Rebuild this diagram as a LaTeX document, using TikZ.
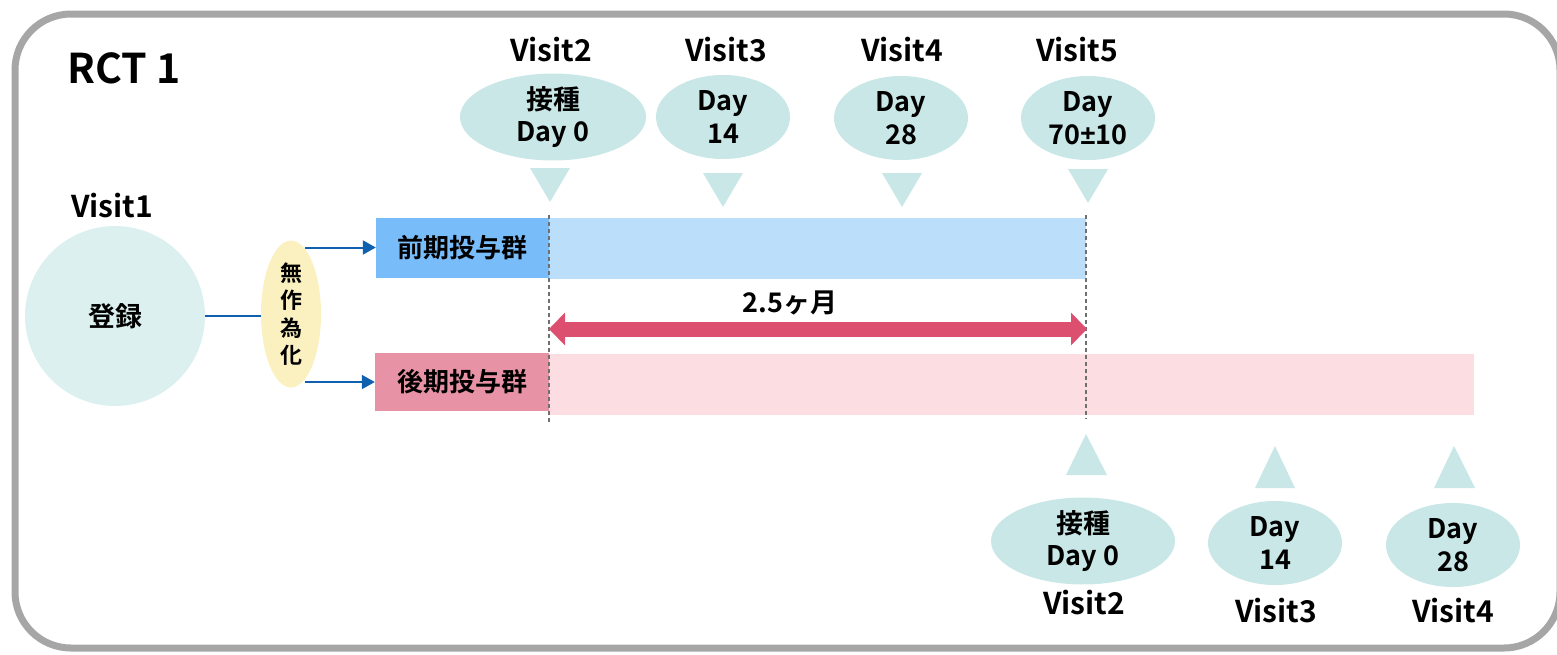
\documentclass[tikz,border=0pt]{standalone}
\usepackage{fontspec}
\setmainfont{Noto Sans CJK JP}[UprightFont=* Bold]
\newfontfamily\lat{Liberation Sans}[UprightFont=* Bold]
\usetikzlibrary{shapes.geometric,arrows.meta}
\definecolor{frame}{HTML}{A6A6A6}
\definecolor{teal1}{HTML}{C9E7E7}
\definecolor{teal2}{HTML}{DDF0F0}
\definecolor{blueline}{HTML}{1060B0}
\definecolor{prebox}{HTML}{78BCFA}
\definecolor{prebar}{HTML}{BBDEFB}
\definecolor{postbox}{HTML}{E893A5}
\definecolor{postbar}{HTML}{FCDDE1}
\definecolor{redarr}{HTML}{DC4F6E}
\definecolor{yel}{HTML}{FBF1C0}
\definecolor{dash}{HTML}{707070}
\tikzset{
  visitlbl/.style={font=\fontsize{30}{34}\selectfont, inner sep=0pt},
  dayell/.style={ellipse, fill=teal1, minimum width=134pt, minimum height=84pt, inner sep=0pt, align=center, font=\fontsize{27}{32.5}\selectfont},
  tri/.style={fill=teal1},
  boxlbl/.style={minimum height=60pt, inner sep=0pt, font=\fontsize{26}{30}\selectfont},
  barbox/.style={minimum height=61pt, inner sep=0pt},
  conn/.style={draw=blueline, line width=2pt},
  arr/.style={conn, -{Triangle[length=13pt,width=14pt]}},
  vdash/.style={draw=dash, line width=1.2pt, dash pattern=on 4pt off 3pt},
}
\begin{document}
\begin{tikzpicture}[x=1pt,y=-1pt]
\useasboundingbox (0,0) rectangle (1557,654);
% frame
\draw[frame, line width=7pt, rounded corners=56pt] (15,14) rectangle (1560,648);
\node[font=\fontsize{41}{44}\selectfont, inner sep=0pt] (rct) at (124,68) {RCT 1};

% visit 1
\node[visitlbl] (v1) at (112,206) {Visit1};
\node[circle, fill=teal2, minimum size=180pt, inner sep=0pt, font=\fontsize{27}{30}\selectfont] (reg) at (115,316) {登録};
\node[ellipse, fill=yel, minimum width=60pt, minimum height=147pt, inner sep=0pt, align=center, font=\fontsize{22}{27.5}\selectfont] (rand) at (291,314) {無\\作\\為\\化};

% bars
\node[barbox, fill=prebar, minimum width=537pt] (prebar) at (817.5,248.5) {};
\node[barbox, fill=postbar, minimum width=925pt] (postbar) at (1011.5,384) {};
\node[boxlbl, fill=prebox, minimum width=173pt] (pre) at (462.5,247.5) {前期投与群};
\node[boxlbl, fill=postbox, minimum width=174pt, minimum height=58pt] (post) at (462,382) {後期投与群};

% connectors
\draw[conn] (reg.east) -- (reg.east -| rand.west);
\draw[arr] ([xshift=14pt]rand.center |- pre.west) -- (pre.west);
\draw[arr] ([xshift=14pt]rand.center |- post.west) -- (post.west);

% dashed lines
\coordinate (d1t) at (549,215);
\coordinate (d1b) at (549,422);
\coordinate (d2t) at (1086,215);
\coordinate (d2b) at (1086,419);
\draw[vdash] (d1t) -- (d1b);
\draw[vdash] (d2t) -- (d2b);

% red double arrow
\coordinate (a1) at (549,329);
\coordinate (a2) at (1087,329);
\draw[redarr, line width=15pt, {Triangle[length=16pt,width=32pt]}-{Triangle[length=16pt,width=32pt]}] (a1) -- (a2);
\node[font=\fontsize{27}{30}\selectfont, inner sep=0pt] (dur) at (790,303) {2.5ヶ月};

% top visits
\node[visitlbl] (t2) at (551,50) {Visit2};
\node[visitlbl] (t3) at (726,50) {Visit3};
\node[visitlbl] (t4) at (902,50) {Visit4};
\node[visitlbl] (t5) at (1077,50) {Visit5};
\node[dayell, minimum width=186pt] (te2) at (553,117) {接種\\Day 0};
\node[dayell] (te3) at (723,117) {Day\\14};
\node[dayell] (te4) at (901,118) {Day\\28};
\node[dayell] (te5) at (1088,118) {Day\\70{\lat ±}10};
\fill[tri] (530,168) -- (570,168) -- (550,202) -- cycle;
\fill[tri] (703,173) -- (743,173) -- (723,207) -- cycle;
\fill[tri] (882,173) -- (922,173) -- (902,207) -- cycle;
\fill[tri] (1068,169) -- (1108,169) -- (1088,203) -- cycle;

% bottom visits
\fill[tri] (1066,475) -- (1107,475) -- (1086,434) -- cycle;
\fill[tri] (1255,488) -- (1295,488) -- (1275,446) -- cycle;
\fill[tri] (1434,488) -- (1475,488) -- (1454,446) -- cycle;
\node[dayell, minimum width=184pt, minimum height=80pt] (be2) at (1083,541) {接種\\Day 0};
\node[dayell] (be3) at (1275,543) {Day\\14};
\node[dayell] (be4) at (1453,545) {Day\\28};
\node[visitlbl] (b2) at (1084,603) {Visit2};
\node[visitlbl] (b3) at (1276,611) {Visit3};
\node[visitlbl] (b4) at (1453,611) {Visit4};
\end{tikzpicture}
\end{document}
